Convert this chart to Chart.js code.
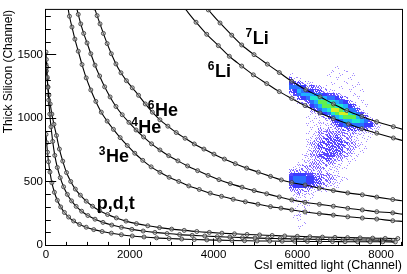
<!DOCTYPE html>
<html><head><meta charset="utf-8">
<script src="https://cdn.jsdelivr.net/npm/chart.js@4.4.1/dist/chart.umd.min.js"></script>
<style>html,body{margin:0;padding:0;background:#fff;overflow:hidden}</style>
</head><body>
<canvas id="c" width="407" height="274" style="width:407px;height:274px;display:block"></canvas>
<script>
// ---- axis ticks ----
const xTickValues = [0, 2000, 4000, 6000, 8000];
const yTickValues = [0, 500, 1000, 1500];

// ---- identification lines (CsI light, Thick Si) ----
const pX = [0,15,35,60,95,140,200,270,350,440,540,660,800,960,1140,1340,1560,1800,2060,2340,2640,2940,3240,3540,3840,4140,4440,4740,5040,5340,5640,5940,6240,6540,6840,7140,7440,7740,8040,8340];
const pY = [870,805,730,655,574,490,415,352,300,256,220,189,162,140,121,106,93,81,71,63,56,51,47,43,40,38,36,34,32,31,30,29,28,27,27,26,26,25,25,24];
const dX = [0,8,18,30,45,65,90,120,160,210,270,340,420,510,610,720,850,1000,1170,1360,1570,1800,2050,2320,2600,2890,3190,3490,3790,4090,4390,4690,4990,5290,5590,5890,6190,6490,6790,7090,7390,7690,7990,8290];
const dY = [1518,1460,1400,1320,1240,1140,1030,930,815,705,610,530,458,398,347,304,266,232,203,178,157,139,123,110,99,90,82,76,71,66,62,58,55,52,50,48,46,44,43,42,40,39,38,37];
const tX = [0,10,25,45,70,100,140,190,250,320,400,490,590,700,820,960,1110,1280,1470,1680,1910,2160,2430,2710,3000,3300,3600,3900,4200,4500,4800,5100,5400,5700,6000,6300,6600,6900,7200,7500,7800,8100,8400];
const tY = [1420,1370,1310,1245,1180,1110,1030,950,862,755,660,570,500,440,392,345,305,270,240,213,188,168,151,137,125,115,106,99,93,88,83,79,75,71,68,65,62,60,58,56,54,52,51];
const he3X = [520,560,620,690,770,860,960,1070,1190,1320,1460,1610,1770,1940,2120,2310,2510,2720,2940,3170,3410,3660,3920,4190,4470,4760,5060,5360,5610,5867,6185,6527,6861,7205,7553,7897,8279,8500];
const he3Y = [1875,1800,1715,1620,1525,1420,1315,1220,1130,1045,975,910,845,783,722,666,615,572,533,500,465,437,408,383,360,340,321,302,290,276,260,247,235,222,212,204,191,186];
const he4X = [720,770,830,900,980,1070,1170,1280,1400,1530,1670,1820,1980,2150,2330,2520,2720,2930,3150,3380,3620,3870,4130,4400,4680,4970,5270,5570,5867,6185,6527,6861,7205,7553,7897,8279,8500];
const he4Y = [1880,1815,1740,1665,1590,1505,1415,1330,1245,1165,1090,1025,965,905,850,796,748,703,662,622,585,548,514,483,455,428,403,378,355,336,320,305,289,276,262,253,243];
const he6X = [1160,1220,1290,1370,1460,1560,1670,1790,1920,2060,2210,2370,2540,2720,2910,3110,3320,3540,3770,4010,4260,4520,4790,5070,5360,5620,5867,6185,6527,6861,7205,7553,7897,8279,8500];
const he6Y = [1865,1805,1740,1665,1585,1505,1425,1355,1293,1237,1178,1110,1045,985,935,885,840,795,755,715,676,640,605,573,540,512,492,472,448,428,410,395,377,358,348];
const li6X = [3300,3582,3838,4115,4377,4673,4950,5270,5571,5867,6185,6543,6861,7219,7539,7897,8294,8500];
const li6Y = [1868,1753,1658,1569,1485,1408,1339,1270,1207,1153,1097,1039,995,952,915,880,842,823];
const li7X = [3876,4155,4435,4673,4967,5285,5571,5867,6200,6543,6862,7181,7539,7897,8294,8500];
const li7Y = [1850,1747,1651,1574,1498,1423,1357,1288,1222,1166,1110,1058,1012,970,931,912];

// ---- 2D histogram (count level 0-9), bins: x from 5700 step 100, y from 1410 downward step 30 ----
const histX0 = 5700, histDX = 100, histYTop = 1410, histDY = 30;
const histRows = [
"............1...........",
"...........1..1.........",
".1........1..1..1.......",
".311........1..1........",
".433211....1..1..1......",
".555423221...1..1.......",
".34654433211...1..1.....",
".1356665543321..1.......",
"..1345777655432..1......",
"...12356887765421.1.....",
"....12456888776431.1....",
"......2356799875531.....",
"......11345789976531....",
".....1.11235678886531...",
"......1.11134566776531..",
".....1.1111234545554421.",
"......1.212122333333211.",
".....1.122222221211111..",
"......1122323222111.1...",
".....1122333332211.1....",
".....12233333332211.....",
".....1123333332221.1....",
".....122233333221.1.....",
"....112233332221.1......",
"....11122332221.1.......",
"...11122222211.1........",
"..1122222211111.........",
".222222121111...........",
".344433222211...........",
".45554433222111.........",
".4555443322111..........",
".344433322111...........",
".222221111..............",
"..12111.................",
"..111.1.................",
"..1.11..................",
"...111..................",
"..1.1...................",
"...1.1..................",
"..11....................",
"...1....................",
"....1...................",
"...1...................."
];

const FONT = '"Liberation Sans", Arial, Helvetica, sans-serif';
const palette = ['', '#a48cff', '#7f66ff', '#5a48ff', '#3c3cff', '#2a70ff', '#1fb0ff', '#20e8d0', '#60f050', '#d8f020'];
const dotsPerLevel = [0, 3, 7, 11];

const cells = [];
histRows.forEach((row, r) => {
  for (let c = 0; c < row.length; c++) {
    const ch = row[c];
    if (ch !== '.') cells.push({r, c, x: histX0 + c * histDX, y: histYTop - (r + 1) * histDY, v: +ch});
  }
});

const heatPlugin = {
  id: 'heat',
  beforeDatasetsDraw(chart) {
    const {ctx, chartArea: a, scales: {x, y}} = chart;
    ctx.save();
    ctx.beginPath(); ctx.rect(a.left, a.top, a.right - a.left, a.bottom - a.top); ctx.clip();
    cells.forEach(cell => {
      const x0 = Math.round(x.getPixelForValue(cell.x)), x1 = Math.round(x.getPixelForValue(cell.x + histDX));
      const y0 = Math.round(y.getPixelForValue(cell.y + histDY)), y1 = Math.round(y.getPixelForValue(cell.y));
      ctx.fillStyle = palette[cell.v];
      if (cell.v >= 4) {
        ctx.fillRect(x0, y0, x1 - x0, y1 - y0);
      } else {
        // sparse bins: individual entries inside the bin
        const w = Math.max(1, x1 - x0), h = Math.max(1, y1 - y0), n = w * h;
        const seed = (cell.r * 5 + cell.c * 11) % n;
        for (let k = 0; k < dotsPerLevel[cell.v]; k++) {
          const idx = (seed + k * 7) % n;
          ctx.fillRect(x0 + (idx % w), y0 + Math.floor(idx / w), 1, 1);
        }
      }
    });
    ctx.restore();
  }
};

const labels = [
  {sup: '7', main: 'Li', x: 4935, y: 1585},
  {sup: '6', main: 'Li', x: 4035, y: 1325},
  {sup: '6', main: 'He', x: 2602, y: 1019},
  {sup: '4', main: 'He', x: 2204, y: 879},
  {sup: '3', main: 'He', x: 1433, y: 650},
  {sup: '', main: 'p,d,t', x: 1210, y: 287}
];

const framePlugin = {
  id: 'frame',
  afterDatasetsDraw(chart) {
    const {ctx, chartArea: a, scales: {x, y}} = chart;
    ctx.save();
    ctx.fillStyle = '#000';
    ctx.textBaseline = 'alphabetic';
    labels.forEach(l => {
      const px = x.getPixelForValue(l.x), py = y.getPixelForValue(l.y);
      ctx.font = 'bold 18px ' + FONT;
      ctx.textAlign = 'left';
      ctx.fillText(l.main, px, py);
      if (l.sup) {
        ctx.font = 'bold 12px ' + FONT;
        ctx.textAlign = 'right';
        ctx.fillText(l.sup, px - 0.5, py - 7);
      }
    });
    ctx.strokeStyle = '#000';
    ctx.lineWidth = 1;
    const L = a.left - 0.5, R = a.right + 0.5, T = a.top - 0.5, B = a.bottom + 0.5;
    ctx.strokeRect(L, T, R - L, B - T);
    ctx.beginPath();
    for (let v = 0; v <= 8500; v += 500) {
      const px = Math.round(x.getPixelForValue(v)) - 0.5;
      const len = v % 2000 === 0 ? 7 : 3.6;
      ctx.moveTo(px, B); ctx.lineTo(px, B - len);
    }
    for (let v = 0; v <= 1850; v += 100) {
      const py = Math.round(y.getPixelForValue(v)) + 0.5;
      const len = v % 500 === 0 ? 10.7 : 5.3;
      ctx.moveTo(L, py); ctx.lineTo(L + len, py);
    }
    ctx.stroke();
    ctx.restore();
  }
};

const curves = [[pX,pY],[dX,dY],[tX,tY],[he3X,he3Y],[he4X,he4Y],[he6X,he6Y],[li6X,li6Y],[li7X,li7Y]];
const datasets = curves.map(([xs, ys]) => ({
  data: xs.map((v, i) => ({x: v, y: ys[i]})),
  borderColor: '#000',
  borderWidth: 1.1,
  cubicInterpolationMode: 'monotone',
  pointRadius: ctx => (ctx.raw && ctx.raw.x >= 8500 ? 0 : 2.0),
  pointBorderColor: '#404040',
  pointBackgroundColor: 'rgba(175,175,175,0.5)',
  pointBorderWidth: 0.9,
  fill: false
}));

new Chart(document.getElementById('c'), {
  type: 'line',
  data: {datasets},
  options: {
    responsive: false,
    devicePixelRatio: 1,
    animation: false,
    layout: {padding: {top: 3, right: 5, left: 0, bottom: 0}},
    plugins: {legend: {display: false}, tooltip: {enabled: false}},
    scales: {
      x: {
        type: 'linear', min: 0, max: 8500,
        afterBuildTicks: s => { s.ticks = xTickValues.map(v => ({value: v})); },
        afterFit: s => { s.height = 29; },
        ticks: {color: '#000', font: {family: FONT, size: 11.5}, padding: 3, maxRotation: 0, autoSkip: false,
                callback: v => String(v)},
        grid: {display: false, drawTicks: false},
        border: {display: false},
        title: {display: true, text: 'CsI emitted light (Channel)', align: 'end', color: '#000',
                font: {family: FONT, size: 12.5}, padding: {top: 0, bottom: 1}}
      },
      y: {
        type: 'linear', min: 0, max: 1850,
        afterBuildTicks: s => { s.ticks = yTickValues.map(v => ({value: v})); },
        afterFit: s => { s.width = 46; },
        ticks: {color: '#000', font: {family: FONT, size: 11.5}, padding: 3, autoSkip: false,
                callback: v => String(v)},
        grid: {display: false, drawTicks: false},
        border: {display: false},
        title: {display: true, text: 'Thick Silicon (Channel)', align: 'end', color: '#000',
                font: {family: FONT, size: 12}, padding: {top: 1, bottom: 0}}
      }
    }
  },
  plugins: [heatPlugin, framePlugin]
});
</script>
</body></html>
